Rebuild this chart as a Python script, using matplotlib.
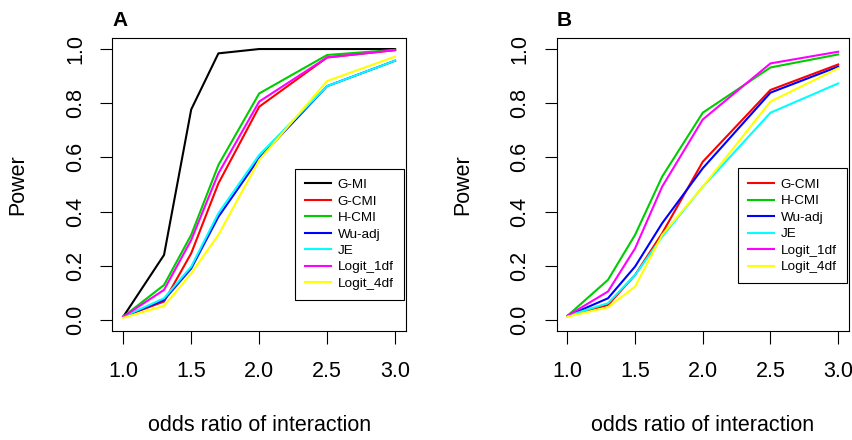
import matplotlib
matplotlib.use("Agg")
import matplotlib.pyplot as plt

plt.rcParams['font.family'] = ['Liberation Sans', 'DejaVu Sans']

# odds ratio of interaction
odds = [1.0, 1.3, 1.5, 1.7, 2.0, 2.5, 3.0]

# panel A power values
a_gmi = [0.012, 0.24, 0.777, 0.984, 1.0, 1.0, 1.0]
a_gcmi = [0.012, 0.068, 0.246, 0.504, 0.787, 0.969, 0.996]
a_hcmi = [0.012, 0.129, 0.314, 0.572, 0.836, 0.978, 0.997]
a_wu = [0.012, 0.074, 0.19, 0.381, 0.597, 0.863, 0.957]
a_je = [0.012, 0.08, 0.197, 0.394, 0.609, 0.863, 0.957]
a_logit1 = [0.012, 0.111, 0.295, 0.541, 0.806, 0.969, 0.996]
a_logit4 = [0.008, 0.052, 0.172, 0.314, 0.59, 0.882, 0.972]

# panel B power values
b_gcmi = [0.015, 0.055, 0.166, 0.32, 0.584, 0.849, 0.943]
b_hcmi = [0.015, 0.148, 0.314, 0.529, 0.765, 0.932, 0.98]
b_wu = [0.015, 0.08, 0.197, 0.357, 0.56, 0.839, 0.935]
b_je = [0.015, 0.062, 0.166, 0.307, 0.492, 0.765, 0.873]
b_logit1 = [0.015, 0.105, 0.264, 0.492, 0.74, 0.947, 0.99]
b_logit4 = [0.012, 0.047, 0.123, 0.314, 0.492, 0.806, 0.929]

names_a = ["G-MI", "G-CMI", "H-CMI", "Wu-adj", "JE", "Logit_1df", "Logit_4df"]
colors_a = ["black", "red", "#00CD00", "blue", "cyan", "magenta", "yellow"]
names_b = names_a[1:]
colors_b = colors_a[1:]

series_a = [a_gmi, a_gcmi, a_hcmi, a_wu, a_je, a_logit1, a_logit4]
series_b = [b_gcmi, b_hcmi, b_wu, b_je, b_logit1, b_logit4]

fig = plt.figure(figsize=(8.52, 4.4), dpi=100)
ax_a = fig.add_axes([0.1319, 0.2482, 0.3446, 0.665])
ax_b = fig.add_axes([0.6532, 0.2482, 0.3433, 0.665])


def draw_panel(ax, series, names, colors, letter, leg_anchor):
    for vals, name, col in zip(series, names, colors):
        ax.plot(odds, vals, color=col, lw=1.5, label=name)
    ax.set_xlim(0.92, 3.08)
    ax.set_ylim(-0.04, 1.04)
    ax.set_xticks([1.0, 1.5, 2.0, 2.5, 3.0])
    ax.set_xticklabels(["1.0", "1.5", "2.0", "2.5", "3.0"])
    ax.set_yticks([0.0, 0.2, 0.4, 0.6, 0.8, 1.0])
    ax.set_yticklabels(["0.0", "0.2", "0.4", "0.6", "0.8", "1.0"],
                       rotation=90, va="center")
    ax.tick_params(direction="out", length=9, width=0.8, labelsize=15.5)
    ax.tick_params(axis="x", pad=13)
    ax.tick_params(axis="y", pad=10)
    for s in ax.spines.values():
        s.set_linewidth(0.8)
    ax.set_xlabel("odds ratio of interaction", fontsize=15.5, va="center")
    ax.xaxis.set_label_coords(0.5, -0.325)
    ax.set_ylabel("Power", fontsize=15.5, va="center")
    ax.yaxis.set_label_coords(-0.3215, 0.5)
    ax.text(0.0, 1.062, letter, transform=ax.transAxes, ha="left",
            va="center", fontsize=15, fontweight="bold")
    leg = ax.legend(loc="lower right", bbox_to_anchor=leg_anchor,
                    borderaxespad=0, fontsize=9.7, handlelength=1.9,
                    handletextpad=0.5, labelspacing=0.3, fancybox=False,
                    framealpha=1, edgecolor="black", borderpad=0.75)
    leg.get_frame().set_linewidth(0.8)


draw_panel(ax_a, series_a, names_a, colors_a, "A", (0.993, 0.105))
draw_panel(ax_b, series_b, names_b, colors_b, "B", (0.992, 0.162))

fig.savefig("out.png", dpi=100)
